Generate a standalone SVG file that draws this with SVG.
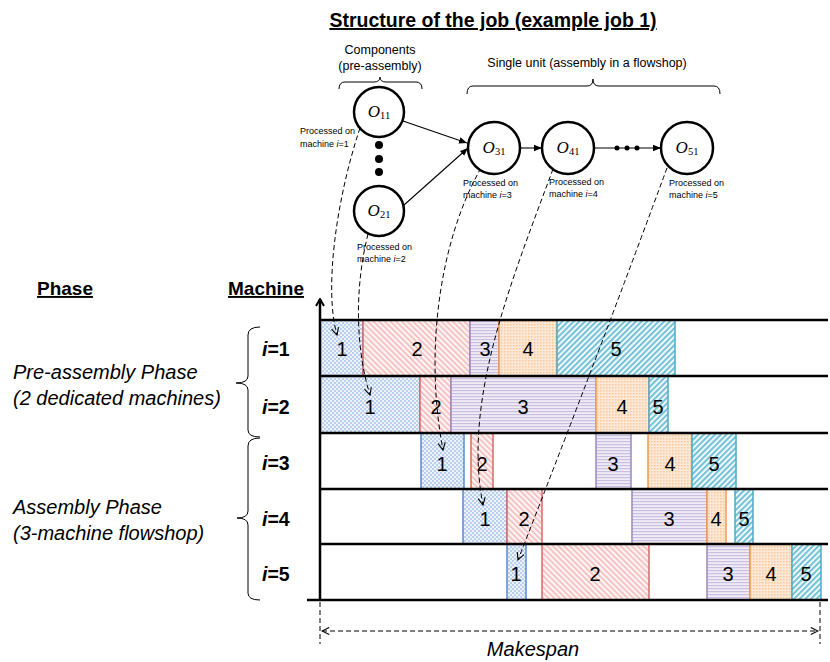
<svg xmlns="http://www.w3.org/2000/svg" width="830" height="662" viewBox="0 0 830 662">
<style>
.t{font-family:"Liberation Sans",Arial,sans-serif;fill:#000}
.title{font-size:19.5px;font-weight:bold;text-decoration:underline}
.hdr{font-size:19px;font-weight:bold;text-decoration:underline}
.lbl{font-size:12.5px}
.small{font-size:9px}
.phase{font-size:20px;font-style:italic}
.mach{font-size:19.5px;font-weight:bold}
.num{font-size:20px;text-anchor:middle}
.math{font-family:"Liberation Serif","Times New Roman",serif;font-size:17px;font-style:italic;text-anchor:middle}
.sub{font-size:10.5px;font-style:normal}
.node{fill:#fff;stroke:#000;stroke-width:2.5}
.arr{fill:none;stroke:#000;stroke-width:1.1}
.dash{fill:none;stroke:#000;stroke-width:1;stroke-dasharray:5,3}
.brace{fill:none;stroke:#000;stroke-width:1}
.grid{stroke:#000;stroke-width:2.5}
.b1{fill:url(#p1);stroke:#5b8bd0;stroke-width:1.5}
.b2{fill:url(#p2);stroke:#d9686a;stroke-width:1.5}
.b3{fill:url(#p3);stroke:#9c88c0;stroke-width:1.5}
.b4{fill:url(#p4);stroke:#f39b4f;stroke-width:1.5}
.b5{fill:url(#p5);stroke:#4bacc6;stroke-width:1.5}
</style>
<defs>
<pattern id="p1" width="4" height="4" patternUnits="userSpaceOnUse">
<rect width="4" height="4" fill="#eef3fa"/>
<rect width="2" height="2" fill="#b9cfec"/>
<rect x="2" y="2" width="2" height="2" fill="#b9cfec"/>
</pattern>
<pattern id="p2" width="4" height="4" patternUnits="userSpaceOnUse" patternTransform="rotate(-45)">
<rect width="4" height="4" fill="#fdf4f4"/>
<rect width="1.6" height="4" fill="#f3baba"/>
</pattern>
<pattern id="p3" width="4" height="3" patternUnits="userSpaceOnUse">
<rect width="4" height="3" fill="#f0ecf5"/>
<rect width="4" height="1.2" fill="#cbbfe1"/>
</pattern>
<pattern id="p4" width="3" height="3" patternUnits="userSpaceOnUse">
<rect width="3" height="3" fill="#fde8d6"/>
<rect width="1.5" height="1.5" fill="#f8c89c"/>
</pattern>
<pattern id="p5" width="4" height="4" patternUnits="userSpaceOnUse" patternTransform="rotate(45)">
<rect width="4" height="4" fill="#eef8fb"/>
<rect width="1.8" height="4" fill="#6cbdd3"/>
</pattern>
<marker id="ah" viewBox="0 0 10 10" refX="10" refY="5" markerWidth="8" markerHeight="8" markerUnits="userSpaceOnUse" orient="auto">
<path d="M0,1 L10,5 L0,9 Z" fill="#000"/>
</marker>
<marker id="av" viewBox="0 0 10 10" refX="9" refY="5" markerWidth="9" markerHeight="9" markerUnits="userSpaceOnUse" orient="auto-start-reverse">
<path d="M1,1 L9,5 L1,9" fill="none" stroke="#000" stroke-width="1.2"/>
</marker>
<marker id="axis" viewBox="0 0 10 10" refX="9" refY="5" markerWidth="10" markerHeight="10" markerUnits="userSpaceOnUse" orient="auto">
<path d="M2,1 L9,5 L2,9" fill="none" stroke="#000" stroke-width="2"/>
</marker>
</defs>

<text class="t title" x="493" y="27" text-anchor="middle">Structure of the job (example job 1)</text>

<g id="labels-top">
<text class="t lbl" x="380" y="54" text-anchor="middle">Components</text>
<text class="t lbl" x="380" y="70" text-anchor="middle">(pre-assembly)</text>
<path class="brace" d="M339,89 Q339,82 345,82 L374,82 Q380,82 380,77 Q380,82 386,82 L416,82 Q422,82 422,89"/>
<text class="t lbl" x="587" y="67" text-anchor="middle">Single unit (assembly in a flowshop)</text>
<path class="brace" d="M467,94 Q467,86 473,86 L587,86 Q593,86 593,79 Q593,86 599,86 L714,86 Q720,86 720,94"/>
</g>

<g id="gantt-blocks">
<rect class="b1" x="320" y="320" width="43" height="56"/>
<rect class="b2" x="363" y="320" width="107" height="56"/>
<rect class="b3" x="470" y="320" width="29" height="56"/>
<rect class="b4" x="499" y="320" width="58" height="56"/>
<rect class="b5" x="557" y="320" width="118" height="56"/>

<rect class="b1" x="320" y="376" width="100" height="57"/>
<rect class="b2" x="420" y="376" width="31" height="57"/>
<rect class="b3" x="451" y="376" width="145" height="57"/>
<rect class="b4" x="596" y="376" width="53" height="57"/>
<rect class="b5" x="649" y="376" width="19" height="57"/>

<rect class="b1" x="421" y="433" width="43" height="56"/>
<rect class="b2" x="471" y="433" width="22" height="56"/>
<rect class="b3" x="596" y="433" width="35" height="56"/>
<rect class="b4" x="648" y="433" width="44" height="56"/>
<rect class="b5" x="692" y="433" width="44" height="56"/>

<rect class="b1" x="463" y="489" width="44" height="55"/>
<rect class="b2" x="507" y="489" width="35" height="55"/>
<rect class="b3" x="632" y="489" width="75" height="55"/>
<rect class="b4" x="707" y="489" width="19" height="55"/>
<rect class="b5" x="735" y="489" width="18" height="55"/>

<rect class="b1" x="507" y="544" width="19" height="56"/>
<rect class="b2" x="542" y="544" width="107" height="56"/>
<rect class="b3" x="707" y="544" width="43" height="56"/>
<rect class="b4" x="750" y="544" width="42" height="56"/>
<rect class="b5" x="792" y="544" width="29" height="56"/>
</g>

<g id="gantt-numbers" class="t">
<text class="num" x="342" y="356">1</text>
<text class="num" x="417" y="356">2</text>
<text class="num" x="485" y="356">3</text>
<text class="num" x="528" y="356">4</text>
<text class="num" x="616" y="356">5</text>

<text class="num" x="370" y="414">1</text>
<text class="num" x="436" y="414">2</text>
<text class="num" x="523" y="414">3</text>
<text class="num" x="622" y="414">4</text>
<text class="num" x="658" y="414">5</text>

<text class="num" x="442" y="471">1</text>
<text class="num" x="482" y="471">2</text>
<text class="num" x="613" y="471">3</text>
<text class="num" x="670" y="471">4</text>
<text class="num" x="714" y="471">5</text>

<text class="num" x="485" y="526">1</text>
<text class="num" x="524" y="526">2</text>
<text class="num" x="669" y="526">3</text>
<text class="num" x="716" y="526">4</text>
<text class="num" x="744" y="526">5</text>

<text class="num" x="516" y="581">1</text>
<text class="num" x="595" y="581">2</text>
<text class="num" x="728" y="581">3</text>
<text class="num" x="771" y="581">4</text>
<text class="num" x="806" y="581">5</text>
</g>

<g id="gantt-grid">
<line class="grid" x1="320" y1="320" x2="828" y2="320"/>
<line class="grid" x1="320" y1="376" x2="828" y2="376"/>
<line class="grid" x1="320" y1="433" x2="828" y2="433"/>
<line class="grid" x1="320" y1="489" x2="828" y2="489"/>
<line class="grid" x1="320" y1="544" x2="828" y2="544"/>
<line class="grid" x1="307" y1="600" x2="828" y2="600"/>
<line class="grid" x1="320" y1="601" x2="320" y2="299" marker-end="url(#axis)"/>
</g>

<g id="left-labels" class="t">
<text class="hdr" x="37" y="295">Phase</text>
<text class="hdr" x="228" y="295">Machine</text>
<text class="phase" x="13" y="379">Pre-assembly Phase</text>
<text class="phase" x="13" y="405">(2 dedicated machines)</text>
<text class="phase" x="13" y="514">Assembly Phase</text>
<text class="phase" x="13" y="540">(3-machine flowshop)</text>
<path class="brace" d="M260,327 Q248,327 248,335 L248,376 Q248,383 236,383 Q248,383 248,390 L248,430 Q248,437 260,437"/>
<path class="brace" d="M260,438 Q248,438 248,446 L248,511 Q248,518 237,518 Q248,518 248,525 L248,593 Q248,600 260,600"/>
<text class="mach" x="262" y="356"><tspan font-style="italic">i</tspan>=1</text>
<text class="mach" x="262" y="414"><tspan font-style="italic">i</tspan>=2</text>
<text class="mach" x="262" y="470"><tspan font-style="italic">i</tspan>=3</text>
<text class="mach" x="262" y="526"><tspan font-style="italic">i</tspan>=4</text>
<text class="mach" x="262" y="581"><tspan font-style="italic">i</tspan>=5</text>
</g>

<g id="connectors">
<line class="arr" x1="403" y1="121" x2="467" y2="143" marker-end="url(#ah)"/>
<line class="arr" x1="404" y1="205" x2="468" y2="148" marker-end="url(#ah)"/>
<line class="arr" x1="520" y1="148" x2="542" y2="148" marker-end="url(#ah)"/>
<line class="arr" x1="594" y1="148" x2="661" y2="148" marker-end="url(#ah)"/>
<circle cx="379" cy="145" r="4"/>
<circle cx="379" cy="159" r="4"/>
<circle cx="379" cy="172" r="4"/>
<circle cx="617" cy="148" r="2.5"/>
<circle cx="627" cy="148" r="2.5"/>
<circle cx="637" cy="148" r="2.5"/>

<path class="dash" d="M360,128 C336,200 324,290 337,335" marker-end="url(#av)"/>
<path class="dash" d="M368,234 C354,290 356,350 370,395" marker-end="url(#av)"/>
<path class="dash" d="M481,168 C440,240 424,350 443,450" marker-end="url(#av)"/>
<path class="dash" d="M553,169 C512,280 462,400 483,505" marker-end="url(#av)"/>
<path class="dash" d="M667,168 Q600,350 518,560" marker-end="url(#av)"/>

<line class="dash" x1="320" y1="602" x2="320" y2="644"/>
<line class="dash" x1="820" y1="602" x2="820" y2="644"/>
<line class="dash" x1="322" y1="631" x2="818" y2="631" marker-start="url(#av)" marker-end="url(#av)"/>
</g>

<g id="node-O11">
<circle class="node" cx="379" cy="112" r="25"/>
<text class="math" x="379" y="117">O<tspan class="sub" dy="2">11</tspan></text>
</g>
<g id="node-O21">
<circle class="node" cx="379" cy="211" r="25"/>
<text class="math" x="379" y="216">O<tspan class="sub" dy="2">21</tspan></text>
</g>
<g id="node-O31">
<circle class="node" cx="494" cy="148" r="26"/>
<text class="math" x="494" y="153">O<tspan class="sub" dy="2">31</tspan></text>
</g>
<g id="node-O41">
<circle class="node" cx="568" cy="148" r="26"/>
<text class="math" x="568" y="153">O<tspan class="sub" dy="2">41</tspan></text>
</g>
<g id="node-O51">
<circle class="node" cx="687" cy="148" r="26"/>
<text class="math" x="687" y="153">O<tspan class="sub" dy="2">51</tspan></text>
</g>

<g id="proc-labels" class="t small">
<text x="300" y="134">Processed on</text>
<text x="300" y="147">machine <tspan font-style="italic">i</tspan>=1</text>
<text x="357" y="250">Processed on</text>
<text x="357" y="262">machine <tspan font-style="italic">i</tspan>=2</text>
<text x="463" y="186">Processed on</text>
<text x="463" y="198">machine <tspan font-style="italic">i</tspan>=3</text>
<text x="549" y="185">Processed on</text>
<text x="549" y="197">machine <tspan font-style="italic">i</tspan>=4</text>
<text x="669" y="186">Processed on</text>
<text x="669" y="198">machine <tspan font-style="italic">i</tspan>=5</text>
</g>

<text class="t phase" x="533" y="656" text-anchor="middle">Makespan</text>
</svg>
